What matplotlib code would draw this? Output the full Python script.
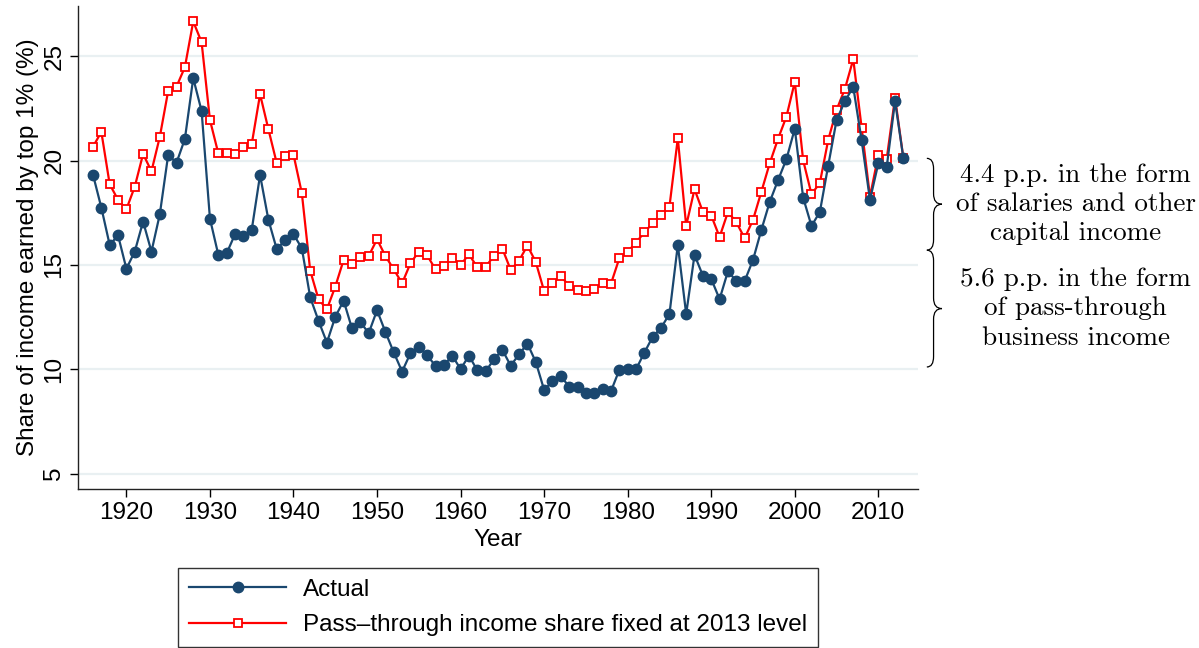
import numpy as np
import matplotlib.pyplot as plt
from matplotlib.path import Path
from matplotlib.patches import PathPatch
from matplotlib.transforms import blended_transform_factory

years = np.arange(1916, 2014)

actual = [19.33, 17.75, 15.96, 16.42, 14.82, 15.64, 17.08, 15.64, 17.43, 20.27,
          19.90, 21.04, 23.95, 22.38, 17.22, 15.49, 15.56, 16.47, 16.39, 16.68,
          19.31, 17.16, 15.75, 16.20, 16.47, 15.80, 13.45, 12.32, 11.28, 12.51,
          13.29, 11.96, 12.27, 11.73, 12.83, 11.79, 10.81, 9.89, 10.77, 11.07,
          10.67, 10.16, 10.19, 10.65, 10.01, 10.65, 9.95, 9.90, 10.48, 10.93,
          10.17, 10.72, 11.23, 10.35, 9.01, 9.42, 9.66, 9.17, 9.14, 8.86,
          8.86, 9.04, 8.95, 9.97, 10.00, 10.00, 10.80, 11.56, 11.99, 12.65,
          15.96, 12.65, 15.48, 14.49, 14.33, 13.36, 14.70, 14.23, 14.23, 15.24,
          16.68, 18.02, 19.07, 20.07, 21.53, 18.23, 16.87, 17.54, 19.76, 21.94,
          22.85, 23.53, 20.98, 18.12, 19.87, 19.68, 22.86, 20.11]

fixed_2013 = [20.66, 21.38, 18.87, 18.12, 17.67, 18.75, 20.32, 19.49, 21.14, 23.34,
              23.55, 24.48, 26.67, 25.68, 21.95, 20.35, 20.35, 20.32, 20.66, 20.79,
              23.18, 21.50, 19.87, 20.24, 20.29, 18.44, 14.73, 13.35, 12.88, 13.96,
              15.24, 15.05, 15.40, 15.43, 16.23, 15.43, 14.79, 14.12, 15.08, 15.64,
              15.46, 14.79, 14.95, 15.35, 15.00, 15.51, 14.89, 14.92, 15.43, 15.78,
              14.76, 15.21, 15.93, 15.14, 13.74, 14.14, 14.47, 13.99, 13.80, 13.74,
              13.86, 14.14, 14.10, 15.32, 15.64, 16.07, 16.57, 17.00, 17.40, 17.80,
              21.07, 16.88, 18.63, 17.54, 17.37, 16.34, 17.54, 17.05, 16.28, 17.16,
              18.51, 19.87, 21.05, 22.11, 23.77, 20.02, 18.39, 18.93, 20.99, 22.43,
              23.44, 24.86, 21.58, 18.27, 20.27, 20.08, 23.02, 20.11]

xticks = [1920, 1930, 1940, 1950, 1960, 1970, 1980, 1990, 2000, 2010]
yticks = [5, 10, 15, 20, 25]

# gap between actual 2013 and the 1980 level, split in two parts
salary_pp = 4.4
passthrough_pp = 5.6
salary_text = "4.4 p.p. in the form\nof salaries and other\ncapital income"
passthrough_text = "5.6 p.p. in the form\nof pass-through\nbusiness income"

NAVY = "#1a476f"
RED = "#ff0000"
GRID = "#e9f0f2"
FS = 17.5

plt.rcParams["font.family"] = ["Liberation Sans", "DejaVu Sans"]


def draw_brace(ax, y_low, y_high, x_left=1.010, x_mid=1.018, x_tip=1.028, r=0.5):
    trans = blended_transform_factory(ax.transAxes, ax.transData)
    y_c = (y_low + y_high) / 2.0
    verts = [(x_left, y_high), (x_mid, y_high), (x_mid, y_high - r),
             (x_mid, y_c + r),
             (x_mid, y_c), (x_tip, y_c),
             (x_mid, y_c), (x_mid, y_c - r),
             (x_mid, y_low + r),
             (x_mid, y_low), (x_left, y_low)]
    codes = [Path.MOVETO, Path.CURVE3, Path.CURVE3,
             Path.LINETO,
             Path.CURVE3, Path.CURVE3,
             Path.CURVE3, Path.CURVE3,
             Path.LINETO,
             Path.CURVE3, Path.CURVE3]
    patch = PathPatch(Path(verts, codes), transform=trans, facecolor="none",
                      edgecolor="black", linewidth=0.9, clip_on=False)
    ax.add_patch(patch)
    return y_c


fig = plt.figure(figsize=(11.99, 6.48), dpi=100)
ax = fig.add_axes([0.065, 0.245, 0.701, 0.746])

ax.plot(years, fixed_2013, color=RED, linewidth=1.6, marker="s", markersize=5.3,
        markerfacecolor="white", markeredgecolor=RED, markeredgewidth=1.3,
        label="Pass\u2013through income share fixed at 2013 level", zorder=3)
ax.plot(years, actual, color=NAVY, linewidth=1.6, marker="o", markersize=7.5,
        markerfacecolor=NAVY, markeredgecolor=NAVY,
        label="Actual", zorder=4)

ax.set_xlim(1914.2, 2014.8)
ax.set_ylim(4.25, 27.42)
ax.set_xticks(xticks)
ax.set_yticks(yticks)
ax.grid(axis="y", color=GRID, linewidth=1.6)
ax.grid(axis="x", visible=False)
ax.set_axisbelow(True)

for side in ["top", "right"]:
    ax.spines[side].set_visible(False)
for side in ["left", "bottom"]:
    ax.spines[side].set_linewidth(1.0)
    ax.spines[side].set_color("#222222")

ax.tick_params(axis="x", labelsize=FS, length=6, width=1.0, pad=3)
ax.tick_params(axis="y", labelsize=FS, length=6, width=1.0, pad=3)
for lab in ax.get_yticklabels():
    lab.set_rotation(90)
    lab.set_va("center")

ax.set_xlabel("Year", fontsize=FS, labelpad=4)
ax.set_ylabel("Share of income earned by top 1% (%)", fontsize=FS, labelpad=3)

handles, labels = ax.get_legend_handles_labels()
leg = ax.legend(handles[::-1], labels[::-1], loc="upper center",
                bbox_to_anchor=(0.5, -0.163), ncol=1, fontsize=FS,
                frameon=True, fancybox=False, edgecolor="black",
                handlelength=4.0, borderpad=0.45, labelspacing=0.55,
                handletextpad=0.7, borderaxespad=0)
leg.get_frame().set_linewidth(1.0)

top = actual[-1]
mid = top - salary_pp
low = mid - passthrough_pp
trans = blended_transform_factory(ax.transAxes, ax.transData)
c1 = draw_brace(ax, mid, top)
c2 = draw_brace(ax, low, mid)
ax.text(1.187, c1, salary_text, transform=trans, ha="center", va="center",
        fontsize=19.5, family="cmr10", linespacing=1.3, clip_on=False)
ax.text(1.187, c2, passthrough_text, transform=trans, ha="center", va="center",
        fontsize=19.5, family="cmr10", linespacing=1.3, clip_on=False)

fig.savefig("out.png", dpi=100)
